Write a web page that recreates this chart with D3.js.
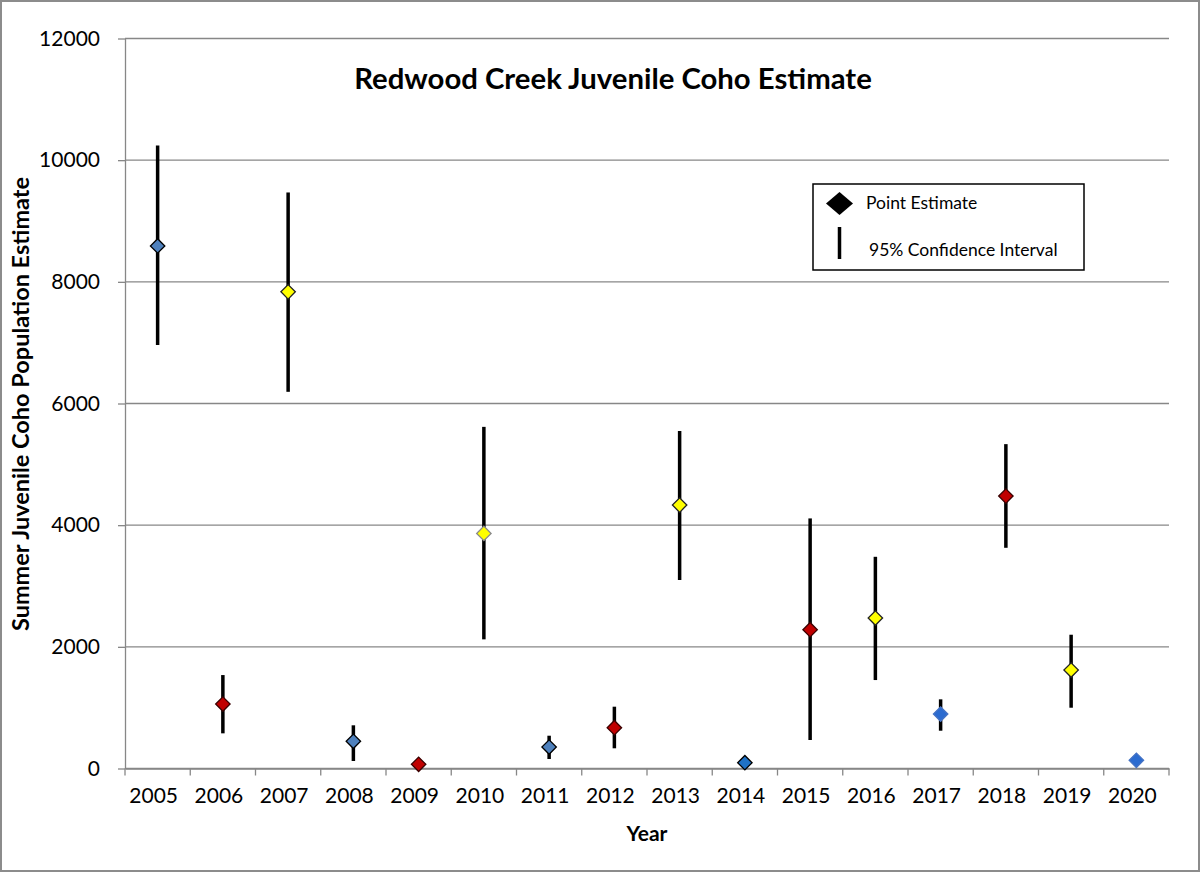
<html>
<head>
<title>Redwood Creek Juvenile Coho Estimate</title>
<script src="https://d3js.org/d3.v7.min.js"></script>
<style>
body { margin: 0; background: #fff; font-family: Lato, 'Open Sans', sans-serif; }
.grid line { stroke: #878787; stroke-width: 1.3; }
.axis path, .axis line { stroke: #878787; stroke-width: 1.3; }
.axis text { font-family: Lato, sans-serif; font-size: 21px; fill: #000; }
</style>
</head>
<body>
<div id="plot"></div>

<script>

var years = ["2005", "2006", "2007", "2008", "2009", "2010", "2011", "2012",
	"2013", "2014", "2015", "2016", "2017", "2018", "2019", "2020"];
var estimates = [8590, 1060, 7835, 447, 69, 3865, 353, 671,
	4330, 95, 2281, 2473, 895, 4478, 1618, 135];
var lower = [6960, 578, 6192, 123, null, 2123, 156, 332,
	3097, null, 468, 1454, 621, 3628, 999, null];
var upper = [10240, 1536, 9469, 710, null, 5616, 539, 1016,
	5546, null, 4111, 3480, 1137, 5332, 2199, null];
var fills = ["#4f81bd", "#c00000", "#ffff00", "#4f81bd", "#c00000", "#ffff00", "#4f81bd", "#c00000",
	"#ffff00", "#1f72c6", "#c00000", "#ffff00", "#2b6bd0", "#c00000", "#ffff00", "#2b6bd0"];
var strokes = ["#000", "#3a0000", "#222", "#000", "#3a0000", "#8a8a8a", "#000", "#3a0000",
	"#222", "#000", "#3a0000", "#222", "#4472c4", "#3a0000", "#222", "#4472c4"];
var yTicks = [0, 2000, 4000, 6000, 8000, 10000, 12000];

var width = 1200;
var height = 872;
var plotLeft = 125, plotRight = 1169, plotTop = 38.5, plotBottom = 768.5;

var svg = d3.select("#plot").append("svg")
.attr("width", width).attr("height", height);

// outer chart border
svg.append("rect")
.attr("x", 1).attr("y", 1).attr("width", width - 2).attr("height", height - 2)
.style("fill", "none").style("stroke", "#8c8c8c").style("stroke-width", 2);

var xScale = d3.scaleBand().domain(years).range([plotLeft, plotRight]).padding(0);
var yScale = d3.scaleLinear().domain([0, 12000]).range([plotBottom, plotTop]);

// horizontal gridlines
svg.append("g").attr("class", "grid")
.selectAll("line").data(yTicks).enter()
.append("line")
.attr("x1", plotLeft).attr("x2", plotRight)
.attr("y1", function (d) { return yScale(d); })
.attr("y2", function (d) { return yScale(d); });

var yAxis = d3.axisLeft(yScale).tickValues(yTicks).tickFormat(d3.format("d"))
.tickSize(7).tickSizeOuter(0).tickPadding(18);
svg.append("g").attr("class", "axis")
.attr("transform", "translate(" + plotLeft + ",0)")
.call(yAxis);

var xAxis = d3.axisBottom(xScale).tickSize(0).tickSizeOuter(0).tickPadding(20);
var xg = svg.append("g").attr("class", "axis")
.attr("transform", "translate(0," + plotBottom + ")")
.call(xAxis);
xg.selectAll(".tick text").attr("dx", -4);

// tick marks between categories
xg.selectAll("line.sep").data(years.concat(["end"])).enter()
.append("line")
.attr("class", "sep")
.attr("x1", function (d, i) { return plotLeft + i * xScale.bandwidth(); })
.attr("x2", function (d, i) { return plotLeft + i * xScale.bandwidth(); })
.attr("y1", 0).attr("y2", 7);

// confidence intervals
var ci = years.map(function (y, i) { return { year: y, lo: lower[i], hi: upper[i] }; })
.filter(function (d) { return d.lo != null; });

svg.selectAll("line.ci").data(ci).enter()
.append("line")
.attr("class", "ci")
.attr("x1", function (d) { return xScale(d.year) + xScale.bandwidth() / 2; })
.attr("x2", function (d) { return xScale(d.year) + xScale.bandwidth() / 2; })
.attr("y1", function (d) { return yScale(d.hi); })
.attr("y2", function (d) { return yScale(d.lo); })
.style("stroke", "#000").style("stroke-width", 3.5);

// point estimates
var diamond = d3.symbol().type(d3.symbolSquare).size(104);

svg.selectAll("path.est").data(years).enter()
.append("path")
.attr("class", "est")
.attr("d", diamond)
.attr("transform", function (d, i) {
	return "translate(" + (xScale(d) + xScale.bandwidth() / 2) + "," + yScale(estimates[i]) + ") rotate(45)";
})
.style("fill", function (d, i) { return fills[i]; })
.style("stroke", function (d, i) { return strokes[i]; })
.style("stroke-width", 1.3);

// titles
svg.append("text")
.attr("x", 613).attr("y", 89)
.attr("text-anchor", "middle")
.style("font-family", "Lato, sans-serif").style("font-weight", "bold").style("font-size", "29.3px")
.text("Redwood Creek Juvenile Coho Estimate");

svg.append("text")
.attr("transform", "translate(29,404) rotate(-90)")
.attr("text-anchor", "middle")
.style("font-family", "Lato, sans-serif").style("font-weight", "bold").style("font-size", "23.5px")
.text("Summer Juvenile Coho Population Estimate");

svg.append("text")
.attr("x", 647).attr("y", 841)
.attr("text-anchor", "middle")
.style("font-family", "Lato, sans-serif").style("font-weight", "bold").style("font-size", "21px")
.text("Year");

// legend
var legend = svg.append("g").attr("transform", "translate(813,184)");
legend.append("rect")
.attr("width", 271).attr("height", 86)
.style("fill", "#fff").style("stroke", "#000").style("stroke-width", 1.5);
legend.append("path")
.attr("d", "M13,19.5 L26.5,8 L40,19.5 L26.5,31 Z")
.style("fill", "#000");
legend.append("text")
.attr("x", 53).attr("y", 25)
.style("font-family", "Lato, sans-serif").style("font-size", "17.5px")
.text("Point Estimate");
legend.append("line")
.attr("x1", 26.5).attr("x2", 26.5).attr("y1", 43).attr("y2", 75)
.style("stroke", "#000").style("stroke-width", 3.5);
legend.append("text")
.attr("x", 56).attr("y", 72)
.style("font-family", "Lato, sans-serif").style("font-size", "17.5px")
.text("95% Confidence Interval");

</script>
</body>
</html>
